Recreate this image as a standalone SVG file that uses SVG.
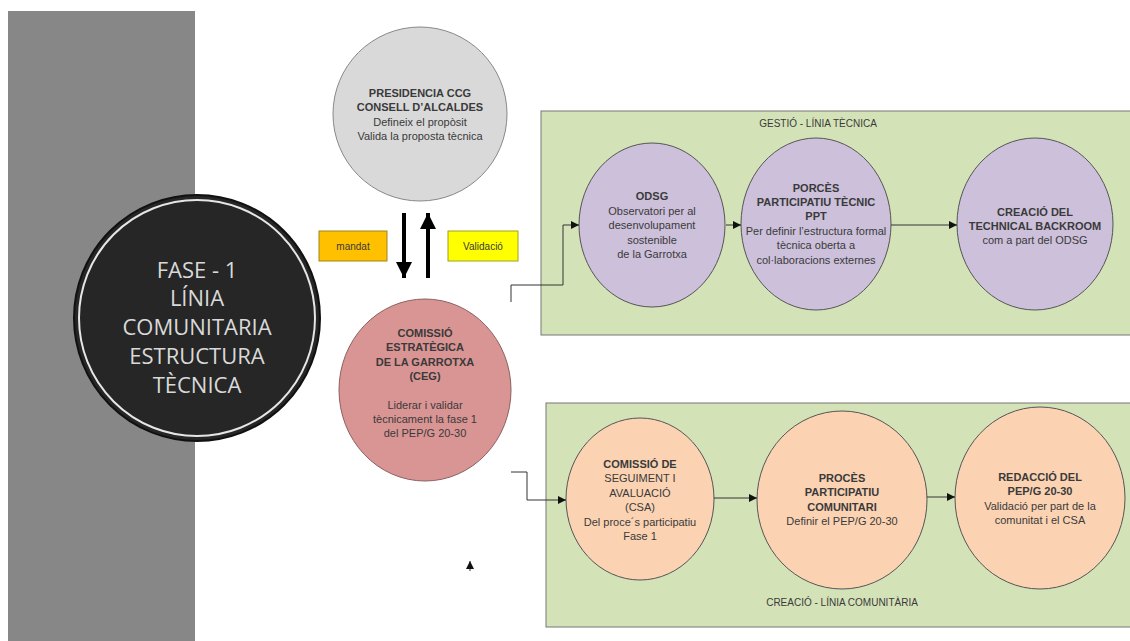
<svg xmlns="http://www.w3.org/2000/svg" width="1130" height="641" viewBox="0 0 1130 641">
<defs>
<style>
.t{font-family:"Liberation Sans",Arial,sans-serif;font-size:11px;fill:#3a3a3a;text-anchor:middle}
.b{font-weight:bold}
.nd{stroke:#555;stroke-width:1}
.cn{fill:none;stroke:#333;stroke-width:1}
.big{font-family:"Open Sans","Liberation Sans",sans-serif;font-size:22px;fill:#d9d9d9;text-anchor:middle}
</style>
<marker id="ah" viewBox="0 0 10 10" refX="10" refY="5" markerWidth="8" markerHeight="8" markerUnits="userSpaceOnUse" orient="auto"><path d="M0,0L10,5L0,10z" fill="#111"/></marker>
<marker id="bh" viewBox="0 0 10 10" refX="10" refY="5" markerWidth="4" markerHeight="4" orient="auto"><path d="M0,0L10,5L0,10z" fill="#000"/></marker>
</defs>
<rect width="1130" height="641" fill="#fff"/>
<rect x="8" y="11" width="187" height="630" fill="#878787"/>
<rect x="541" y="111" width="592" height="224" fill="#d4e2b8" stroke="#777" stroke-width="1"/>
<text class="t" x="818" y="127" style="font-size:10px">GESTIÓ - LÍNIA TÈCNICA</text>
<rect x="546" y="403" width="590" height="224" fill="#d4e2b8" stroke="#777" stroke-width="1"/>
<text class="t" x="842" y="606" style="font-size:10px">CREACIÓ - LÍNIA COMUNITÀRIA</text>

<g id="fase">
<circle cx="197" cy="318" r="123" fill="#262626" stroke="#111" stroke-width="2"/>
<circle cx="197" cy="318" r="118" fill="none" stroke="#e6e6e6" stroke-width="2"/>
<text class="big" x="197" y="278">FASE - 1</text>
<text class="big" x="197" y="306">LÍNIA</text>
<text class="big" x="197" y="335">COMUNITARIA</text>
<text class="big" x="197" y="364">ESTRUCTURA</text>
<text class="big" x="197" y="393">TÈCNICA</text>
</g>

<g id="presidencia">
<ellipse cx="420" cy="114" rx="87" ry="87" fill="#d9d9d9" stroke="#888"/>
<text class="t b" x="420" y="97">PRESIDENCIA CCG</text>
<text class="t b" x="420" y="111">CONSELL D’ALCALDES</text>
<text class="t" x="420" y="126">Defineix el propòsit</text>
<text class="t" x="420" y="140">Valida la proposta tècnica</text>
</g>

<g id="mandat">
<rect x="319" y="231" width="68" height="30" fill="#ffc000" stroke="#a0861a"/>
<text class="t" x="353" y="250" style="font-size:10px">mandat</text>
</g>
<g id="validacio">
<rect x="448" y="231" width="70" height="30" fill="#ffff00" stroke="#a0a020"/>
<text class="t" x="483" y="250" style="font-size:10px">Validació</text>
</g>

<g id="ceg">
<ellipse cx="425" cy="390" rx="86" ry="91" fill="#d99594" stroke="#8a6060"/>
<text class="t b" x="425" y="337">COMISSIÓ</text>
<text class="t b" x="425" y="351">ESTRATÈGICA</text>
<text class="t b" x="425" y="366">DE LA GARROTXA</text>
<text class="t b" x="425" y="380">(CEG)</text>
<text class="t" x="425" y="409">Liderar i validar</text>
<text class="t" x="425" y="423">tècnicament la fase 1</text>
<text class="t" x="425" y="437">del PEP/G 20-30</text>
</g>

<g id="odsg">
<ellipse cx="652" cy="225" rx="73" ry="82" fill="#ccc0da" class="nd"/>
<text class="t b" x="652" y="200">ODSG</text>
<text class="t" x="652" y="215">Observatori per al</text>
<text class="t" x="652" y="229">desenvolupament</text>
<text class="t" x="652" y="244">sostenible</text>
<text class="t" x="652" y="258">de la Garrotxa</text>
</g>

<g id="ppt">
<ellipse cx="816" cy="224" rx="75" ry="86" fill="#ccc0da" class="nd"/>
<text class="t b" x="816" y="192">PORCÈS</text>
<text class="t b" x="816" y="206">PARTICIPATIU TÈCNIC</text>
<text class="t b" x="816" y="220">PPT</text>
<text class="t" x="816" y="235">Per definir l’estructura formal</text>
<text class="t" x="816" y="249">tècnica oberta a</text>
<text class="t" x="816" y="264">col·laboracions externes</text>
</g>

<g id="backroom">
<ellipse cx="1035" cy="224" rx="78" ry="86" fill="#ccc0da" class="nd"/>
<text class="t b" x="1035" y="216">CREACIÓ DEL</text>
<text class="t b" x="1035" y="230">TECHNICAL BACKROOM</text>
<text class="t" x="1035" y="244">com a part del ODSG</text>
</g>

<g id="csa">
<ellipse cx="640" cy="499" rx="74" ry="81" fill="#fbd3b3" class="nd"/>
<text class="t b" x="640" y="468">COMISSIÓ DE</text>
<text class="t" x="640" y="482">SEGUIMENT I</text>
<text class="t" x="640" y="497">AVALUACIÓ</text>
<text class="t" x="640" y="511">(CSA)</text>
<text class="t" x="640" y="526">Del proce´s participatiu</text>
<text class="t" x="640" y="540">Fase 1</text>
</g>

<g id="proces">
<ellipse cx="842" cy="500" rx="85" ry="89" fill="#fbd3b3" class="nd"/>
<text class="t b" x="842" y="482">PROCÈS</text>
<text class="t b" x="842" y="496">PARTICIPATIU</text>
<text class="t b" x="842" y="511">COMUNITARI</text>
<text class="t" x="842" y="525">Definir el PEP/G 20-30</text>
</g>

<g id="redaccio">
<ellipse cx="1040" cy="498" rx="85" ry="91" fill="#fbd3b3" class="nd"/>
<text class="t b" x="1040" y="481">REDACCIÓ DEL</text>
<text class="t b" x="1040" y="495">PEP/G 20-30</text>
<text class="t" x="1040" y="510">Validació per part de la</text>
<text class="t" x="1040" y="524">comunitat i el CSA</text>
</g>

<g id="connectors">
<path d="M404,213V278" stroke="#000" stroke-width="4" fill="none" marker-end="url(#bh)"/>
<path d="M428,278V213" stroke="#000" stroke-width="4" fill="none" marker-end="url(#bh)"/>
<path class="cn" d="M511,302V285H563V225H579" marker-end="url(#ah)"/>
<path class="cn" d="M726,225H741" marker-end="url(#ah)"/>
<path class="cn" d="M891,225H957" marker-end="url(#ah)"/>
<path class="cn" d="M511,472H527V500H566" marker-end="url(#ah)"/>
<path class="cn" d="M714,498H757" marker-end="url(#ah)"/>
<path class="cn" d="M927,497H955" marker-end="url(#ah)"/>
<path class="cn" d="M470,571V561" marker-end="url(#ah)"/>
</g>
</svg>
